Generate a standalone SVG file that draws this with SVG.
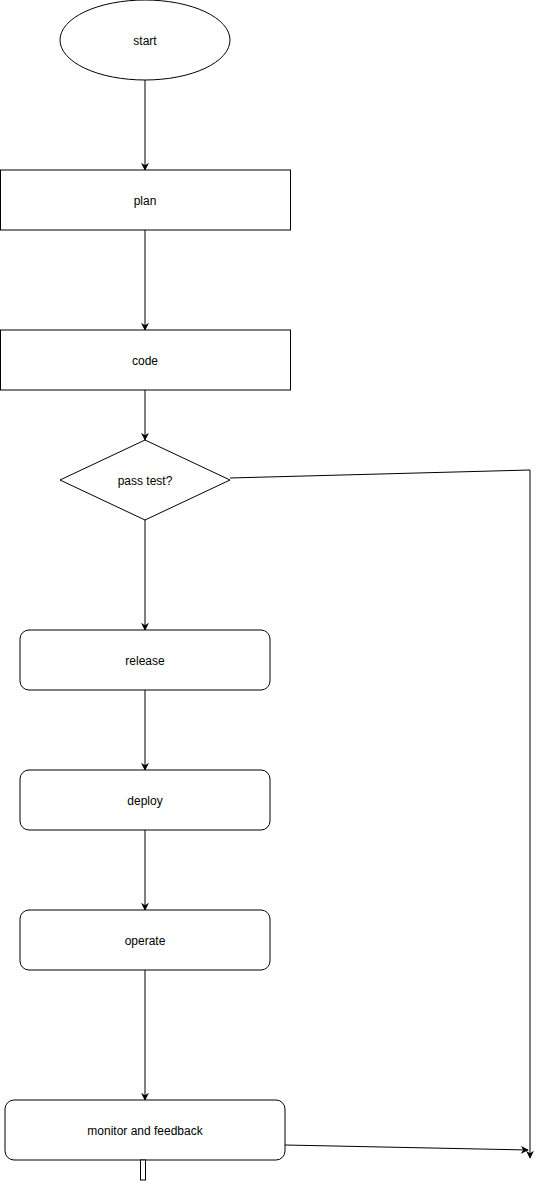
<svg xmlns="http://www.w3.org/2000/svg" width="539" height="1189" viewBox="0 0 539 1189">
<style>
.n{fill:#fff;stroke:#000;stroke-width:1}
.t{font-family:"Liberation Sans",Arial,sans-serif;font-size:12px;fill:#000;text-anchor:middle;dominant-baseline:central}
.c{fill:none;stroke:#000;stroke-width:1}
</style>
<defs>
<marker id="a" viewBox="0 0 10 10" refX="9" refY="5" markerWidth="8" markerHeight="8" markerUnits="userSpaceOnUse" orient="auto">
<path d="M0,0 L10,5 L0,10 L3,5 Z" fill="#000"/>
</marker>
</defs>
<rect width="539" height="1189" fill="#fff"/>
<g id="connectors">
<line class="c" x1="145" y1="80" x2="145" y2="170" marker-end="url(#a)"/>
<line class="c" x1="145" y1="230" x2="145" y2="330" marker-end="url(#a)"/>
<line class="c" x1="145" y1="390" x2="145" y2="440" marker-end="url(#a)"/>
<line class="c" x1="145" y1="520" x2="145" y2="630" marker-end="url(#a)"/>
<line class="c" x1="145" y1="690" x2="145" y2="770" marker-end="url(#a)"/>
<line class="c" x1="145" y1="830" x2="145" y2="910" marker-end="url(#a)"/>
<line class="c" x1="145" y1="970" x2="145" y2="1100" marker-end="url(#a)"/>
<polyline class="c" points="230,478 530,470 530,1158" marker-end="url(#a)"/>
<line class="c" x1="285" y1="1145" x2="528" y2="1150" marker-end="url(#a)"/>
</g>
<g id="start">
<ellipse class="n" cx="145" cy="40" rx="85" ry="40"/>
<text class="t" x="145" y="41">start</text>
</g>
<g id="plan">
<rect class="n" x="0.5" y="170" width="290" height="60"/>
<text class="t" x="145" y="201">plan</text>
</g>
<g id="code">
<rect class="n" x="0.5" y="330" width="290" height="60"/>
<text class="t" x="145" y="361">code</text>
</g>
<g id="pass-test">
<polygon class="n" points="145,440 230,480 145,520 60,480"/>
<text class="t" x="145" y="481">pass test?</text>
</g>
<g id="release">
<rect class="n" x="20" y="630" width="250" height="60" rx="9"/>
<text class="t" x="145" y="661">release</text>
</g>
<g id="deploy">
<rect class="n" x="20" y="770" width="250" height="60" rx="9"/>
<text class="t" x="145" y="801">deploy</text>
</g>
<g id="operate">
<rect class="n" x="20" y="910" width="250" height="60" rx="9"/>
<text class="t" x="145" y="941">operate</text>
</g>
<g id="monitor">
<rect class="n" x="5" y="1100" width="280" height="60" rx="9"/>
<text class="t" x="145" y="1131">monitor and feedback</text>
</g>
<g id="stub">
<rect class="n" x="140.5" y="1160" width="5" height="20"/>
</g>
</svg>
